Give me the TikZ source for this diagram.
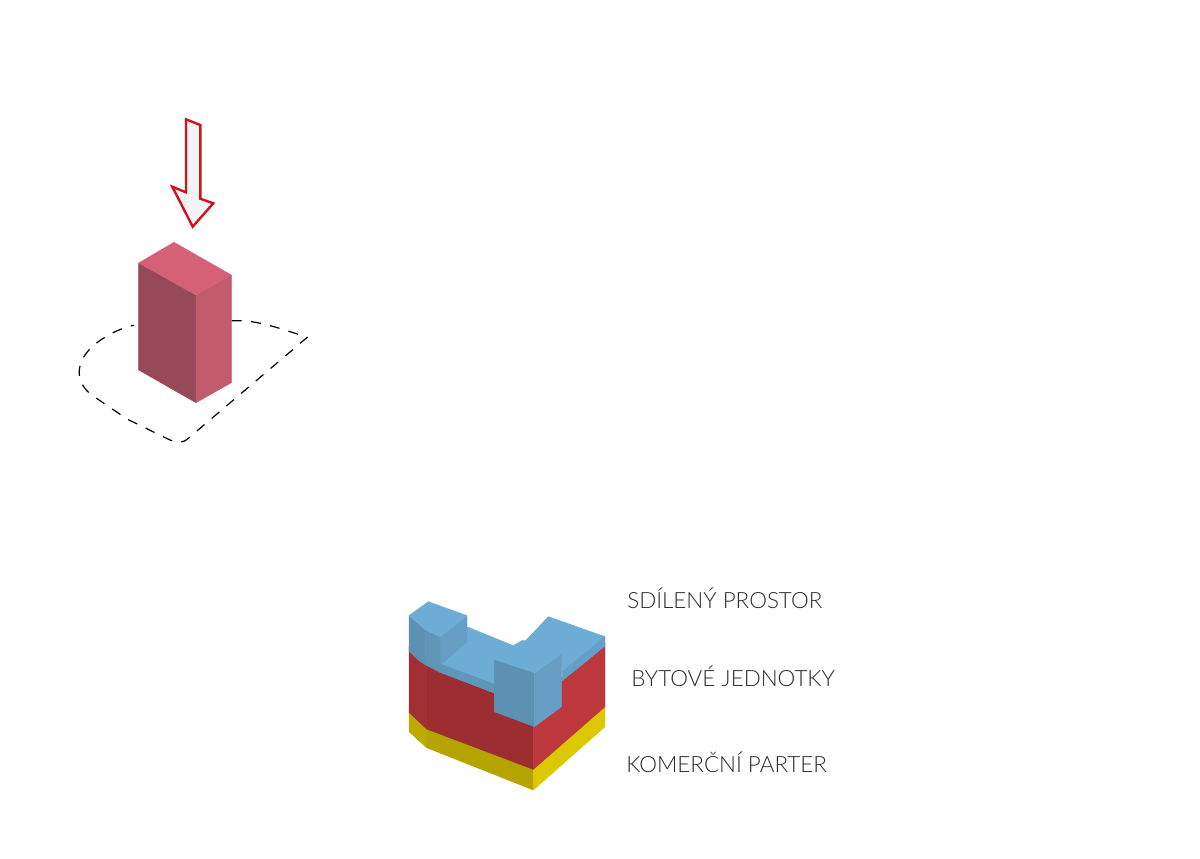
\documentclass[tikz,border=0pt]{standalone}
\usepackage{fontspec}
\setmainfont{Lato}[UprightFont=* Light]
\definecolor{blockTop}{HTML}{D46175}
\definecolor{blockLeft}{HTML}{964A58}
\definecolor{blockRight}{HTML}{C25C6D}
\definecolor{arrowRed}{HTML}{D40F1E}
\definecolor{arrowFill}{HTML}{F4F4F4}
\definecolor{yelA}{HTML}{B5A400}
\definecolor{yelB}{HTML}{BDAA00}
\definecolor{yelC}{HTML}{DCC800}
\definecolor{redA}{HTML}{9C2E31}
\definecolor{redB}{HTML}{A23033}
\definecolor{redC}{HTML}{BC383D}
\definecolor{bluTop}{HTML}{6DACD5}
\definecolor{bluA}{HTML}{5C91B2}
\definecolor{bluB}{HTML}{6195B7}
\definecolor{bluC}{HTML}{689EC3}
\definecolor{bluD}{HTML}{6096B9}
\definecolor{bluE}{HTML}{63A0C9}
\definecolor{labelInk}{HTML}{2A2A2A}
\tikzset{
  face/.style={fill=#1,draw=#1,line width=.35pt,line join=round},
  legendlabel/.style={anchor=west,inner sep=0pt,text=labelInk,font=\fontsize{16.8}{20}\selectfont},
}
\begin{document}
\begin{tikzpicture}[x=0.75pt,y=-0.75pt]
\useasboundingbox (0,0) rectangle (1200,858);
% dashed site outline
\draw[black,line width=0.9pt,dash pattern=on 7.5pt off 7pt,line join=round]
  (231.7,320.7) .. controls (255,320) and (270,325) .. (307.3,337.3)
  -- (188.3,438.3) .. controls (184,443) and (178,443) .. (170,440)
  -- (127,419) -- (91.7,395) .. controls (72,380) and (75,355) .. (105,337.3)
  .. controls (115,331) and (125,327) .. (134,325.3);
% red block
\path[face=blockLeft] (138.7,263) -- (196,295) -- (196,402.7) -- (138.7,370) -- cycle;
\path[face=blockRight] (196,295) -- (231.3,275) -- (231.3,382.7) -- (196,402.7) -- cycle;
\path[face=blockTop] (174,242.3) -- (231.3,275) -- (196,295) -- (138.7,263) -- cycle;
% arrow
\draw[arrowRed,fill=arrowFill,line width=1.8pt,line join=miter]
  (186,119.3) -- (200.3,125) -- (200.3,198.7) -- (213.3,203.3) -- (192.7,226.7) -- (172.3,186.7) -- (186,192.3) -- cycle;
% layered massing (coordinates in 3x zoom units)
\begin{scope}[shift={(395,590)},x=0.25pt,y=-0.25pt]
 % yellow
 \path[face=yelB] (42,360) -- (42,425) -- (95,473) -- (95,410) -- cycle;
 \path[face=yelA] (95,410) -- (95,473) -- (415,600) -- (415,530) -- cycle;
 \path[face=yelC] (415,530) -- (415,600) -- (630,410) -- (630,345) -- cycle;
 % red
 \path[face=redB] (42,170) -- (42,367) -- (95,417) -- (95,200) -- cycle;
 \path[face=redA] (95,200) -- (95,417) -- (415,538) -- (415,400) -- (298,360) -- (298,300) -- (135,225) -- cycle;
 \path[face=redC] (415,538) -- (630,350) -- (630,160) -- (495,265) -- (495,345) -- (415,405) -- cycle;
 % blue platform
 \path[face=bluTop] (138,223) -- (215,110) -- (355,167) -- (380,152) -- (392,152) -- (460,80) -- (630,140) -- (502,245) -- (498,192) -- (415,250) -- (298,210) -- (300,283) -- cycle;
 \path[face=bluD] (135,222) -- (300,283) -- (300,310) -- (135,247) -- cycle;
 \path[face=bluE] (630,140) -- (630,168) -- (502,272) -- (502,245) -- cycle;
 % left block
 \path[face=bluC] (135,140) -- (216,77) -- (216,155) -- (138,223) -- (135,230) -- cycle;
 \path[face=bluA] (42,77) -- (92,120) -- (92,225) -- (70,210) -- (42,183) -- cycle;
 \path[face=bluB] (92,120) -- (135,140) -- (135,247) -- (92,225) -- cycle;
 \path[face=bluTop] (42,77) -- (100,35) -- (216,77) -- (135,140) -- (92,120) -- cycle;
 % front block
 \path[face=bluA] (298,210) -- (418,250) -- (418,410) -- (298,365) -- cycle;
 \path[face=bluC] (418,250) -- (500,192) -- (500,350) -- (418,410) -- cycle;
\end{scope}
% labels
\node[legendlabel] (sdileny) at (627,598) {SDÍLENÝ PROSTOR};
\node[legendlabel] (bytove) at (631,676) {BYTOVÉ JEDNOTKY};
\node[legendlabel] (komercni) at (626,762.5) {KOMERČNÍ PARTER};
\end{tikzpicture}
\end{document}
